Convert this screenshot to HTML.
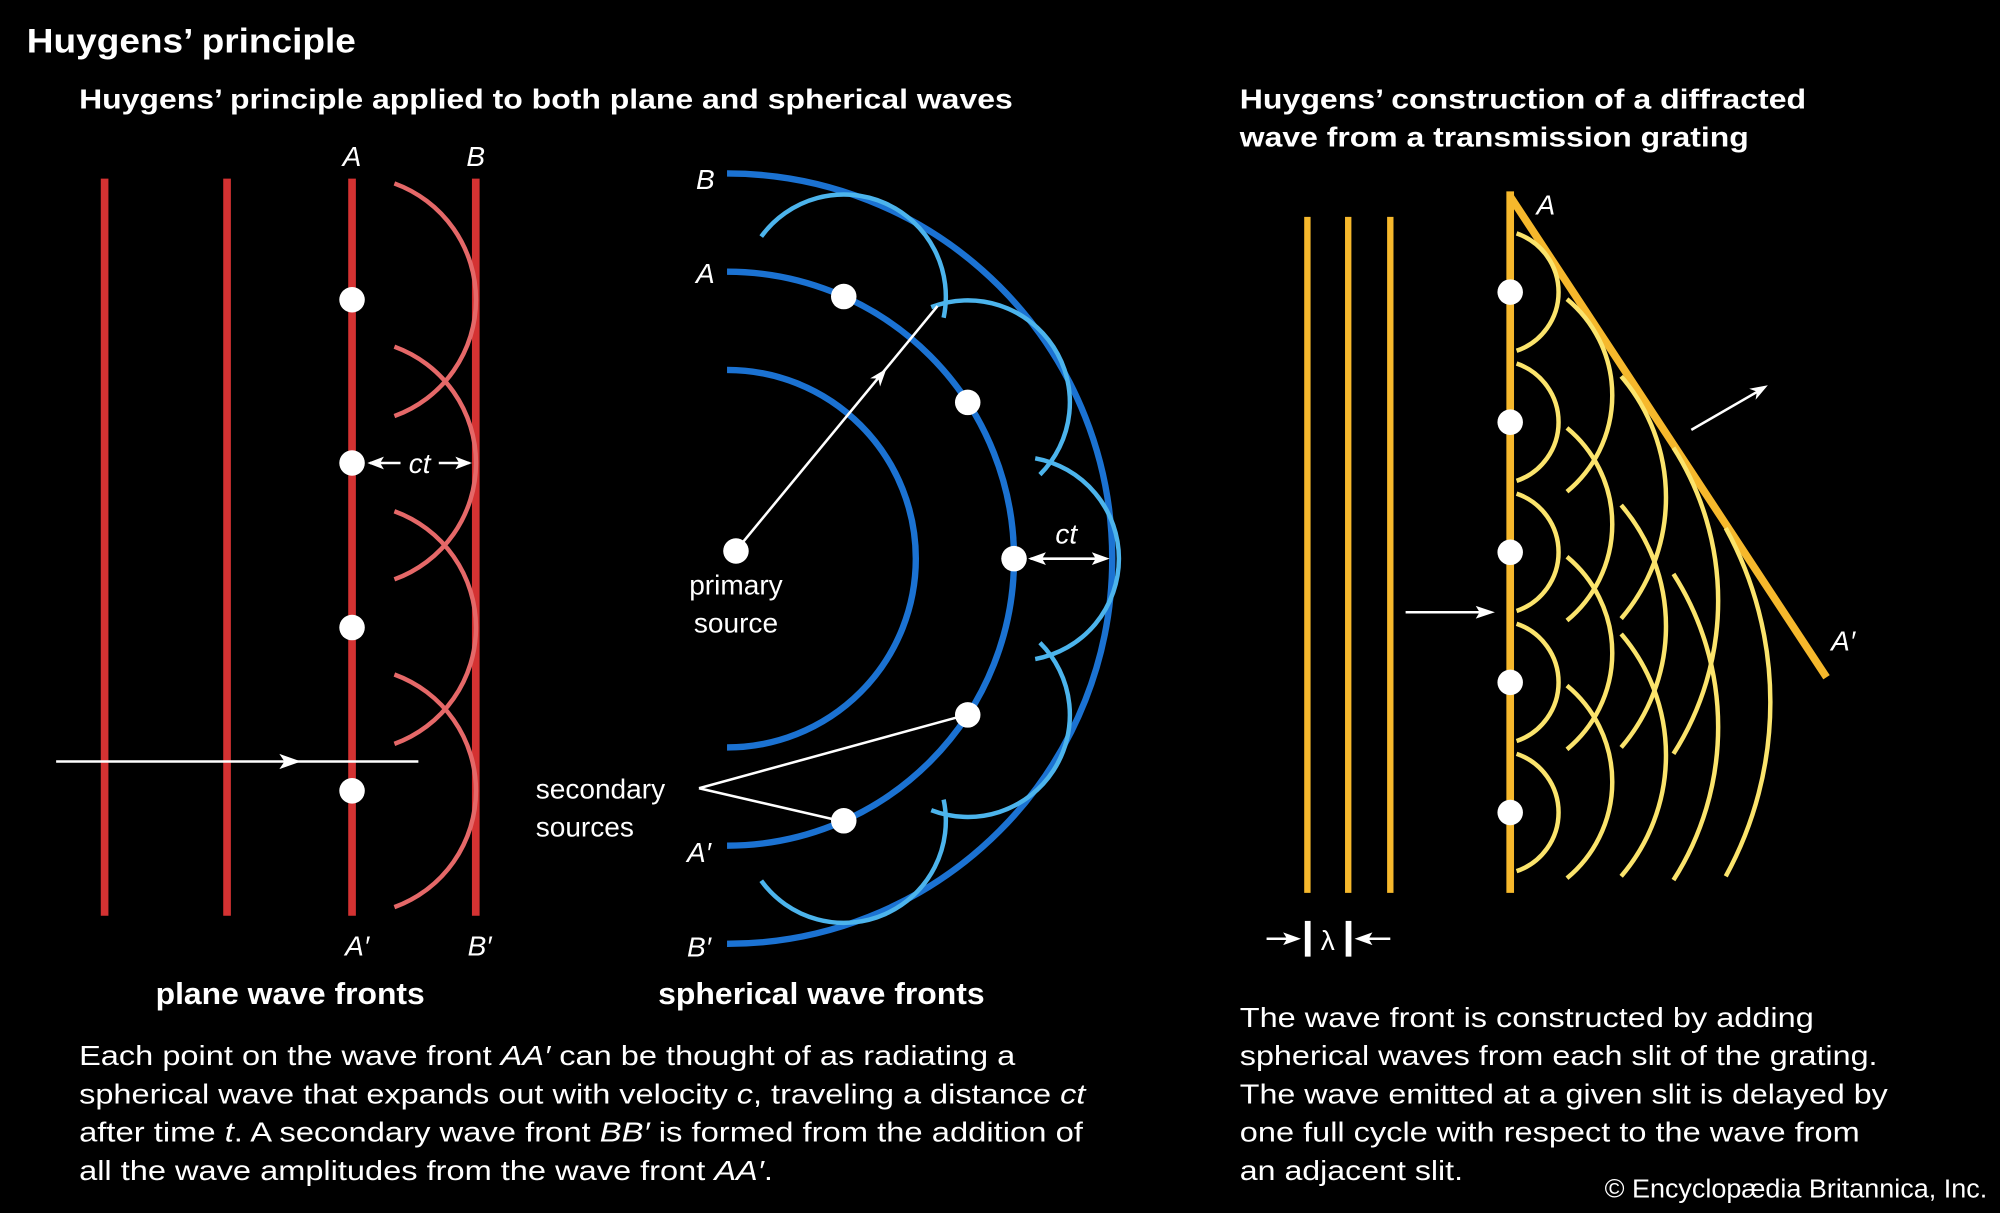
<!DOCTYPE html>
<html><head><meta charset="utf-8"><style>
html,body{margin:0;padding:0;background:#000;}
svg{display:block;}
text{font-family:"Liberation Sans",Arial,sans-serif;fill:#fff;}
.b{font-weight:bold;}
.i{font-style:italic;}
</style></head><body>
<svg width="2000" height="1213" viewBox="0 0 1568 951" xmlns="http://www.w3.org/2000/svg">
<rect width="1568" height="951" fill="#000"/>
<text x="21" y="41" font-size="27" class="b" textLength="258" lengthAdjust="spacingAndGlyphs">Huygens’ principle</text>
<text x="62" y="85" font-size="22" class="b" textLength="732" lengthAdjust="spacingAndGlyphs">Huygens’ principle applied to both plane and spherical waves</text>
<text x="972" y="85" font-size="22" class="b" textLength="444" lengthAdjust="spacingAndGlyphs">Huygens’ construction of a diffracted</text>
<text x="972" y="115" font-size="22" class="b" textLength="399" lengthAdjust="spacingAndGlyphs">wave from a transmission grating</text>

<!-- LEFT: plane waves -->
<g stroke="#d43232" stroke-width="6">
<line x1="82" y1="140" x2="82" y2="718"/><line x1="178" y1="140" x2="178" y2="718"/>
<line x1="276" y1="140" x2="276" y2="718"/><line x1="373" y1="140" x2="373" y2="718"/>
</g>
<g fill="none" stroke="#e56868" stroke-width="3.5">
<path d="M309.2,143.8 A97 97 0 0 1 309.2,326.2"/>
<path d="M309.2,271.8 A97 97 0 0 1 309.2,454.2"/>
<path d="M309.2,400.8 A97 97 0 0 1 309.2,583.2"/>
<path d="M309.2,528.8 A97 97 0 0 1 309.2,711.2"/>
</g>
<g fill="#fff"><circle cx="276" cy="235" r="10"/><circle cx="276" cy="363" r="10"/><circle cx="276" cy="492" r="10"/><circle cx="276" cy="620" r="10"/></g>
<line x1="44" y1="597" x2="328" y2="597" stroke="#fff" stroke-width="2"/>
<polygon points="236,597 219,591 223,597 219,603" fill="#fff"/>
<line x1="290" y1="363" x2="314" y2="363" stroke="#fff" stroke-width="2"/>
<polygon points="288,363 301,358 298,363 301,368" fill="#fff"/>
<line x1="344" y1="363" x2="368" y2="363" stroke="#fff" stroke-width="2"/>
<polygon points="370,363 357,358 360,363 357,368" fill="#fff"/>
<text x="329" y="371" font-size="22" class="i" text-anchor="middle">ct</text>
<g font-size="22" class="i" text-anchor="middle">
<text x="276" y="130">A</text><text x="373" y="130">B</text>
<text x="280" y="749">A′</text><text x="376" y="749">B′</text>
</g>
<text x="122" y="787" font-size="24" class="b" textLength="211" lengthAdjust="spacingAndGlyphs">plane wave fronts</text>

<!-- MIDDLE: spherical -->
<g fill="none" stroke="#1b72d2" stroke-width="5">
<path d="M570,290 A148 148 0 0 1 570,586"/>
<path d="M570,213 A225 225 0 0 1 570,663"/>
<path d="M570,136 A302 302 0 0 1 570,740"/>
</g>
<g fill="none" stroke="#4cb4ec" stroke-width="3.5">
<path d="M596.8,185.5 A80 80 0 0 1 739.8,249.1"/>
<path d="M730.1,240.8 A80 80 0 0 1 815.3,372.1"/>
<path d="M811.6,359.3 A80 80 0 0 1 811.6,516.7"/>
<path d="M815.3,503.9 A80 80 0 0 1 730.1,635.2"/>
<path d="M739.8,626.9 A80 80 0 0 1 596.8,690.5"/>
</g>
<g fill="#fff">
<circle cx="661.5" cy="232.5" r="10"/><circle cx="758.7" cy="315.5" r="10"/><circle cx="795" cy="438" r="10"/><circle cx="758.7" cy="560.5" r="10"/><circle cx="661.5" cy="643.5" r="10"/>
<circle cx="577" cy="432" r="10"/>
</g>
<line x1="580" y1="428" x2="735" y2="240" stroke="#fff" stroke-width="2"/>
<polygon points="695,289 690,303 688.6,296.7 682.2,296.6" fill="#fff"/>
<text x="577" y="466" font-size="22" text-anchor="middle">primary</text>
<text x="577" y="496" font-size="22" text-anchor="middle">source</text>
<text x="420" y="626" font-size="22">secondary</text>
<text x="420" y="656" font-size="22">sources</text>
<line x1="548" y1="618" x2="752" y2="562" stroke="#fff" stroke-width="2"/>
<line x1="548" y1="618" x2="652" y2="642" stroke="#fff" stroke-width="2"/>
<line x1="808" y1="438" x2="866" y2="438" stroke="#fff" stroke-width="2"/>
<polygon points="806,438 820,433 817,438 820,443" fill="#fff"/>
<polygon points="870,438 856,433 859,438 856,443" fill="#fff"/>
<text x="836" y="426" font-size="22" class="i" text-anchor="middle">ct</text>
<g font-size="22" class="i" text-anchor="middle">
<text x="553" y="148">B</text><text x="553" y="222">A</text>
<text x="548" y="676">A′</text><text x="548" y="750">B′</text>
</g>
<text x="516" y="787" font-size="24" class="b" textLength="256" lengthAdjust="spacingAndGlyphs">spherical wave fronts</text>

<!-- RIGHT: grating -->
<g stroke="#f6b82c" stroke-width="5">
<line x1="1025" y1="170" x2="1025" y2="700"/><line x1="1057" y1="170" x2="1057" y2="700"/><line x1="1090" y1="170" x2="1090" y2="700"/>
</g>
<g stroke="#f6b82c" stroke-width="6" fill="none">
<line x1="1184" y1="150" x2="1184" y2="700"/>
<line x1="1184" y1="154" x2="1432" y2="531"/>
</g>
<g fill="none" stroke="#fbe46c" stroke-width="3.5">
<path d="M1189,183 A48.6 48.6 0 0 1 1189,275"/>
<path d="M1189,285 A48.6 48.6 0 0 1 1189,377"/>
<path d="M1189,387 A48.6 48.6 0 0 1 1189,479"/>
<path d="M1189,489 A48.6 48.6 0 0 1 1189,581"/>
<path d="M1189,591 A48.6 48.6 0 0 1 1189,683"/>
<path d="M1228.5,234.5 A98 98 0 0 1 1228.5,385.5"/>
<path d="M1228.5,335.5 A98 98 0 0 1 1228.5,486.5"/>
<path d="M1228.5,436.5 A98 98 0 0 1 1228.5,587.5"/>
<path d="M1228.5,537.5 A98 98 0 0 1 1228.5,688.5"/>
<path d="M1271,295 A146 146 0 0 1 1271,485"/>
<path d="M1271,396 A146 146 0 0 1 1271,586"/>
<path d="M1271,497 A146 146 0 0 1 1271,687"/>
<path d="M1312,351 A223 223 0 0 1 1312,591"/>
<path d="M1312,450 A223 223 0 0 1 1312,690"/>
<path d="M1353,414 A284 284 0 0 1 1353,687"/>
</g>
<g fill="#fff">
<circle cx="1184" cy="229" r="10"/><circle cx="1184" cy="331" r="10"/><circle cx="1184" cy="433" r="10"/><circle cx="1184" cy="535" r="10"/><circle cx="1184" cy="637" r="10"/>
</g>
<line x1="1102" y1="480" x2="1164" y2="480" stroke="#fff" stroke-width="2"/>
<polygon points="1172,480 1157,475 1160,480 1157,485" fill="#fff"/>
<line x1="1326" y1="337" x2="1378" y2="307" stroke="#fff" stroke-width="2"/>
<polygon points="1386,302 1376.4,313.4 1377.4,307 1371.4,304.8" fill="#fff"/>
<text x="1212" y="168" font-size="22" class="i" text-anchor="middle">A</text>
<text x="1445" y="510" font-size="22" class="i" text-anchor="middle">A′</text>
<line x1="993" y1="736" x2="1012" y2="736" stroke="#fff" stroke-width="2"/>
<polygon points="1020,736 1006,731 1009,736 1006,741" fill="#fff"/>
<rect x="1023" y="722" width="4.5" height="28" fill="#fff"/>
<rect x="1055" y="722" width="4.5" height="28" fill="#fff"/>
<text x="1041" y="745" font-size="22" text-anchor="middle">λ</text>
<line x1="1070" y1="736" x2="1090" y2="736" stroke="#fff" stroke-width="2"/>
<polygon points="1062,736 1076,731 1073,736 1076,741" fill="#fff"/>

<!-- captions -->
<g font-size="22">
<text x="62" y="835" textLength="734" lengthAdjust="spacingAndGlyphs">Each point on the wave front <tspan class="i">AA′</tspan> can be thought of as radiating a</text>
<text x="62" y="865" textLength="789" lengthAdjust="spacingAndGlyphs">spherical wave that expands out with velocity <tspan class="i">c</tspan>, traveling a distance <tspan class="i">ct</tspan></text>
<text x="62" y="895" textLength="787" lengthAdjust="spacingAndGlyphs">after time <tspan class="i">t</tspan>. A secondary wave front <tspan class="i">BB′</tspan> is formed from the addition of</text>
<text x="62" y="925" textLength="544" lengthAdjust="spacingAndGlyphs">all the wave amplitudes from the wave front <tspan class="i">AA′</tspan>.</text>
<text x="972" y="805" textLength="450" lengthAdjust="spacingAndGlyphs">The wave front is constructed by adding</text>
<text x="972" y="835" textLength="500" lengthAdjust="spacingAndGlyphs">spherical waves from each slit of the grating.</text>
<text x="972" y="865" textLength="508" lengthAdjust="spacingAndGlyphs">The wave emitted at a given slit is delayed by</text>
<text x="972" y="895" textLength="486" lengthAdjust="spacingAndGlyphs">one full cycle with respect to the wave from</text>
<text x="972" y="925" textLength="175" lengthAdjust="spacingAndGlyphs">an adjacent slit.</text>
</g>
<text x="1258" y="939" font-size="20" textLength="300" lengthAdjust="spacingAndGlyphs">© Encyclopædia Britannica, Inc.</text>
</svg>
</body></html>
